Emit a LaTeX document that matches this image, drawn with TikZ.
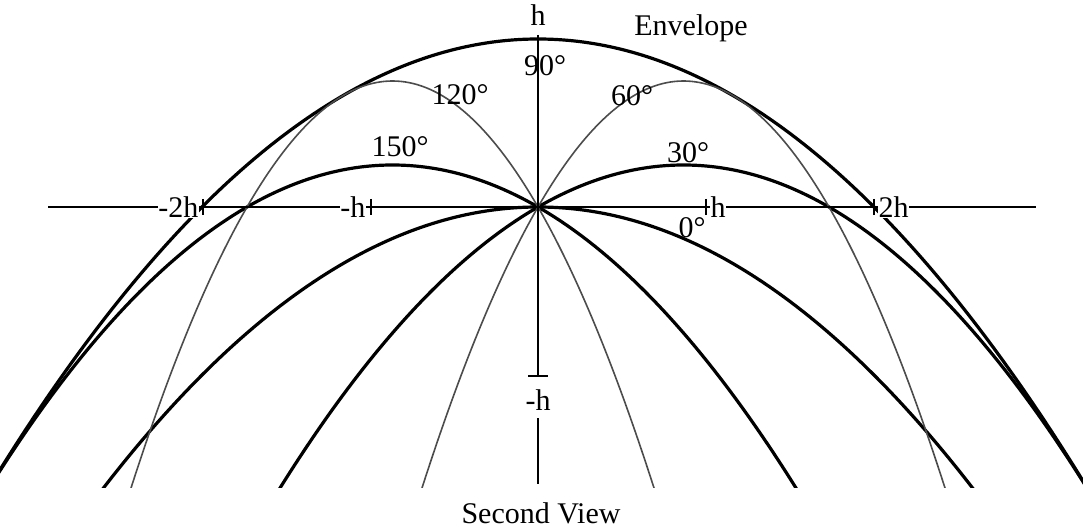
\documentclass[tikz,border=0pt]{standalone}
\usepackage{fontspec}
\setmainfont{Liberation Serif}
\begin{document}
\begin{tikzpicture}[x=1pt,y=-1pt,
  thickcurve/.style={line width=3.2pt,black},
  thincurve/.style={line width=1.6pt,black!70},
  axisline/.style={line width=2.6pt,black},
  ticksty/.style={line width=2.4pt,black},
  lab/.style={font=\fontsize{30}{30}\selectfont,inner sep=0.5pt},
  axlab/.style={lab,fill=white},
]
\useasboundingbox[fill=white] (0,0) rectangle (1083,529);
% trajectories
\begin{scope}
\clip (0,0) rectangle (1083,487);
\begin{scope}[shift={(538,207)},x=168pt,y=168pt]
  % envelope
  \draw[thickcurve] plot[domain=-3.4:3.4,samples=140,smooth] (\x,{1-\x*\x/4});
  % 0 deg / 180 deg
  \draw[thickcurve] plot[domain=-2.8:2.8,samples=120,smooth] (\x,{-\x*\x/4});
  % 30 deg
  \draw[thickcurve] plot[domain=-1.7:3.4,samples=140,smooth] (\x,{0.57735*\x-\x*\x/3});
  % 150 deg
  \draw[thickcurve] plot[domain=-3.4:1.7,samples=140,smooth] (\x,{-0.57735*\x-\x*\x/3});
  % 60 deg
  \draw[thincurve] plot[domain=-0.8:2.6,samples=140,smooth] (\x,{1.73205*\x-\x*\x});
  % 120 deg
  \draw[thincurve] plot[domain=-2.6:0.8,samples=140,smooth] (\x,{-1.73205*\x-\x*\x});
\end{scope}
\end{scope}
% axes
\coordinate (xl) at (48,207);
\coordinate (xr) at (1036,207);
\coordinate (yt) at (538,35);
\coordinate (ym) at (538,376);
\coordinate (yb1) at (538,418);
\coordinate (yb2) at (538,484);
\draw[axisline] (xl) -- (xr);
\draw[axisline] (yt) -- (ym);
\draw[axisline] (yb1) -- (yb2);
\foreach \t/\n in {203/tA,371/tB,706/tC,874/tD}{
  \coordinate (\n a) at (\t,199);
  \coordinate (\n b) at (\t,215);
  \draw[ticksty] (\n a) -- (\n b);
}
\coordinate (tEa) at (528,376);
\coordinate (tEb) at (548,376);
\draw[ticksty] (tEa) -- (tEb);
% axis labels
\node[axlab,anchor=east] (lm2h) at (199,207) {-2h};
\node[axlab,anchor=east] (lmh) at (366,207) {-h};
\node[axlab,anchor=west] (lph) at (710,207) {h};
\node[axlab,anchor=west] (lp2h) at (878,207) {2h};
\node[lab] (ltop) at (538,15) {h};
\node[lab] (lbot) at (538,400) {-h};
% angle labels
\node[lab] (a90) at (545,66) {90°};
\node[lab] (a120) at (460,95) {120°};
\node[lab] (a60) at (632,96) {60°};
\node[lab] (a150) at (400,147) {150°};
\node[lab] (a30) at (688,153) {30°};
\node[lab] (a0) at (692,228) {0°};
\node[lab] (env) at (691,28) {Envelope};
\node[lab] (title) at (541,513) {Second View};
\end{tikzpicture}
\end{document}
